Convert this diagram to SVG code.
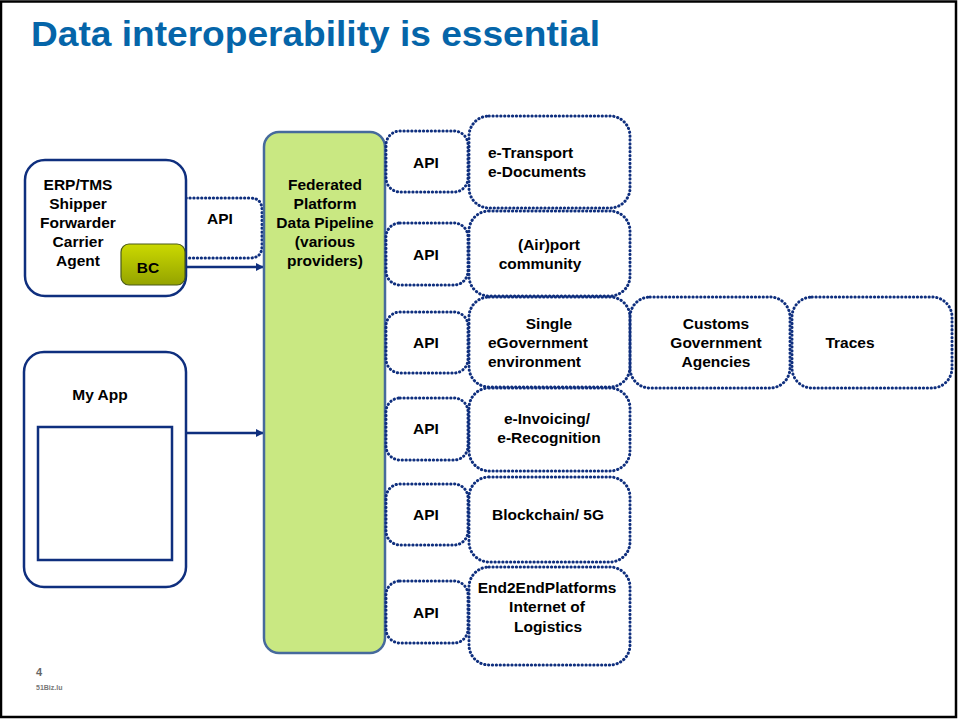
<svg xmlns="http://www.w3.org/2000/svg" width="958" height="720" viewBox="0 0 958 720">
<defs>
<style>
.t{font-family:"Liberation Sans",Arial,sans-serif;font-weight:bold;font-size:15.5px;fill:#000}
.c{text-anchor:middle}
.dot{fill:none;stroke:#0f2f7e;stroke-width:3;stroke-linecap:round;stroke-dasharray:0.3 3.6}
.solid{fill:#fff;stroke:#0f2f7e;stroke-width:2.5}
.arr{stroke:#0f2f7e;stroke-width:2.5;fill:none;marker-end:url(#ah)}
</style>
<marker id="ah" viewBox="0 0 10 10" refX="9" refY="5" markerWidth="3.2" markerHeight="3.2" orient="auto" markerUnits="strokeWidth">
<path d="M0,0 L10,5 L0,10 z" fill="#0f2f7e"/>
</marker>
<linearGradient id="bcg" x1="0" y1="0" x2="0" y2="1">
<stop offset="0" stop-color="#cbd900"/>
<stop offset="1" stop-color="#94a300"/>
</linearGradient>
</defs>
<rect x="1" y="1.5" width="955" height="715.5" fill="#fff" stroke="#000" stroke-width="2.5"/>
<text x="31" y="46" font-family="Liberation Sans,Arial,sans-serif" font-weight="bold" font-size="35" fill="#0565a9" textLength="569" lengthAdjust="spacingAndGlyphs">Data interoperability is essential</text>

<g id="connectors">
<path class="dot" d="M186,198 H250 Q262,198 262,210 V246 Q262,258 250,258 H186"/>
<line class="arr" x1="186" y1="267" x2="263" y2="267"/>
<line class="arr" x1="186" y1="433" x2="263" y2="433"/>
</g>
<text class="t c" x="220" y="224">API</text>

<g id="erp">
<rect class="solid" x="25" y="160" width="161" height="136" rx="20"/>
<text class="t c" x="78" y="190">ERP/TMS</text>
<text class="t c" x="78" y="209">Shipper</text>
<text class="t c" x="78" y="228">Forwarder</text>
<text class="t c" x="78" y="247">Carrier</text>
<text class="t c" x="78" y="266">Agent</text>
</g>
<g id="bc">
<rect x="121" y="244" width="64" height="41" rx="8" fill="url(#bcg)" stroke="#4a5a1a" stroke-width="1.2"/>
<text class="t c" x="148" y="273">BC</text>
</g>

<g id="myapp">
<rect class="solid" x="24" y="352" width="162" height="235" rx="20"/>
<text class="t c" x="100" y="400">My App</text>
<rect x="38" y="427" width="134" height="133" fill="#fff" stroke="#0f2f7e" stroke-width="2.5"/>
</g>

<g id="platform">
<rect x="264" y="132" width="121" height="521" rx="15" fill="#c9e882" stroke="#466a9c" stroke-width="2.5"/>
<text class="t c" x="325" y="190">Federated</text>
<text class="t c" x="325" y="209">Platform</text>
<text class="t c" x="325" y="228">Data Pipeline</text>
<text class="t c" x="325" y="247">(various</text>
<text class="t c" x="325" y="266">providers)</text>
</g>

<g id="api1"><rect class="dot" x="386" y="131" width="82" height="61" rx="14"/><text class="t c" x="426" y="168">API</text></g>
<g id="api2"><rect class="dot" x="386" y="223" width="82" height="62" rx="14"/><text class="t c" x="426" y="260">API</text></g>
<g id="api3"><rect class="dot" x="386" y="312" width="82" height="61" rx="14"/><text class="t c" x="426" y="348">API</text></g>
<g id="api4"><rect class="dot" x="386" y="398" width="82" height="62" rx="14"/><text class="t c" x="426" y="434">API</text></g>
<g id="api5"><rect class="dot" x="386" y="484" width="82" height="61" rx="14"/><text class="t c" x="426" y="520">API</text></g>
<g id="api6"><rect class="dot" x="386" y="581" width="82" height="62" rx="14"/><text class="t c" x="426" y="618">API</text></g>

<g id="etransport">
<rect class="dot" x="469" y="116" width="161" height="92" rx="20"/>
<text class="t" x="488" y="158">e-Transport</text>
<text class="t" x="488" y="177">e-Documents</text>
</g>
<g id="airport">
<rect class="dot" x="469" y="211" width="161" height="85" rx="20"/>
<text class="t c" x="549" y="250">(Air)port</text>
<text class="t c" x="540" y="269">community</text>
</g>
<g id="egov">
<rect class="dot" x="469" y="297" width="161" height="90" rx="20"/>
<text class="t c" x="549" y="329">Single</text>
<text class="t" x="488" y="348">eGovernment</text>
<text class="t" x="488" y="367">environment</text>
</g>
<g id="customs">
<rect class="dot" x="630" y="297" width="160" height="91" rx="20"/>
<text class="t c" x="716" y="329">Customs</text>
<text class="t c" x="716" y="348">Government</text>
<text class="t c" x="716" y="367">Agencies</text>
</g>
<g id="traces">
<rect class="dot" x="792" y="297" width="160" height="91" rx="20"/>
<text class="t c" x="850" y="348">Traces</text>
</g>
<g id="einvoicing">
<rect class="dot" x="469" y="388" width="161" height="83" rx="20"/>
<text class="t c" x="547" y="424">e-Invoicing/</text>
<text class="t c" x="549" y="443">e-Recognition</text>
</g>
<g id="blockchain">
<rect class="dot" x="469" y="477" width="161" height="85" rx="20"/>
<text class="t c" x="548" y="520">Blockchain/ 5G</text>
</g>
<g id="end2end">
<rect class="dot" x="469" y="567" width="161" height="98" rx="20"/>
<text class="t c" x="547" y="593">End2EndPlatforms</text>
<text class="t c" x="547" y="612">Internet of</text>
<text class="t c" x="548" y="632">Logistics</text>
</g>

<text x="36" y="676" font-family="Liberation Sans,Arial,sans-serif" font-weight="bold" font-size="11" fill="#666">4</text>
<text x="36" y="690" font-family="Liberation Sans,Arial,sans-serif" font-weight="bold" font-size="7" fill="#777">51Biz.lu</text>
</svg>
